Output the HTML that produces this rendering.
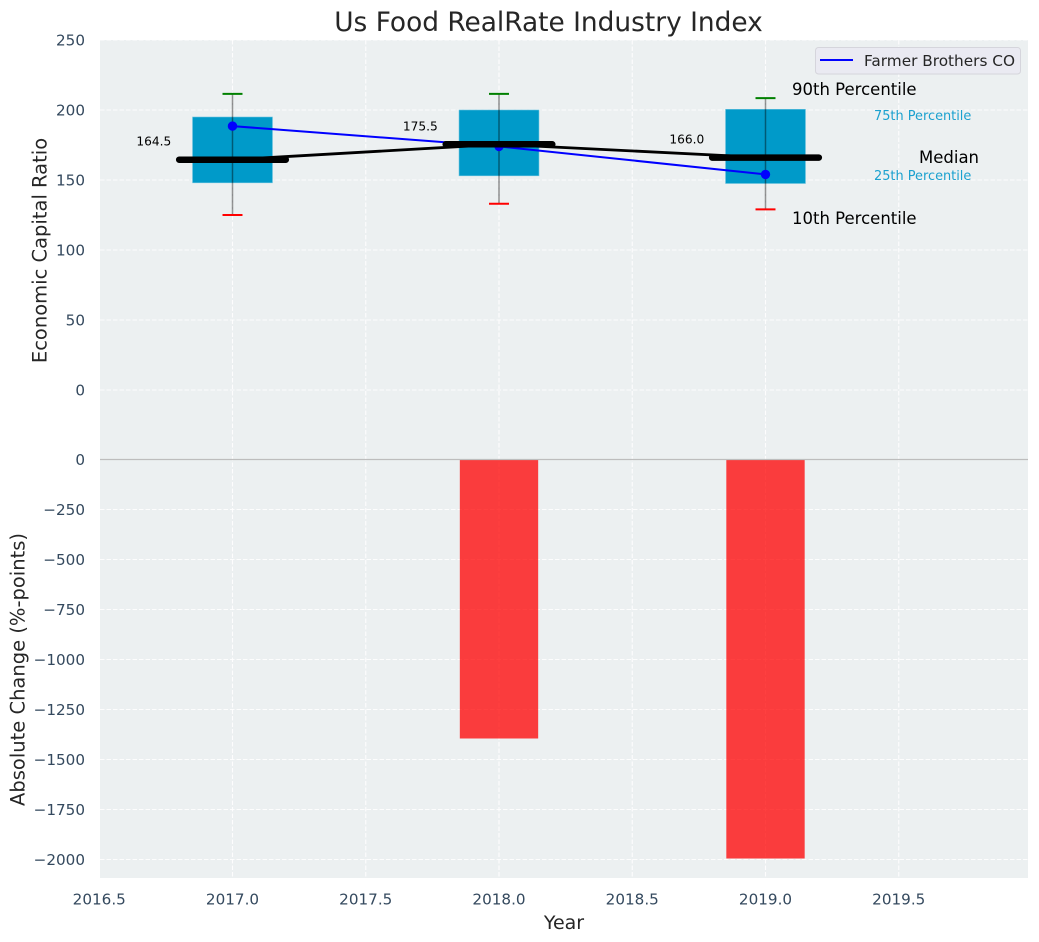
<!DOCTYPE html>
<html>
<head>
<meta charset="utf-8">
<style>
html,body{margin:0;padding:0;background:#fff;}
svg{display:block;font-family:"DejaVu Sans","Liberation Sans",sans-serif;}
</style>
</head>
<body>
<svg id="chart" xmlns="http://www.w3.org/2000/svg" width="1039" height="942" viewBox="0 0 1039 942">
  <rect x="100" y="40" width="928" height="838" fill="#ecf0f1"/>
  <g id="grid"></g>
  <g id="bars"></g>
  <line id="zero" x1="100" x2="1028" stroke="#bdbdbd" stroke-width="1.2"/>
  <g id="boxes"></g>
  <g id="medianLine"></g>
  <g id="company"></g>
  <g id="medianBars"></g>
  <g id="medianLabels"></g>
  <g id="ticks" font-size="15.2" fill="#34495e"></g>

  <text x="548.5" y="31" text-anchor="middle" font-size="26.4" fill="#262626">Us Food RealRate Industry Index</text>
  <text x="564" y="929" text-anchor="middle" font-size="19" fill="#262626">Year</text>
  <text transform="translate(46.5,250.5) rotate(-90)" text-anchor="middle" font-size="19.5" fill="#262626">Economic Capital Ratio</text>
  <text transform="translate(24.5,669.5) rotate(-90)" text-anchor="middle" font-size="19.5" fill="#262626">Absolute Change (%-points)</text>

  <text x="792" y="95" font-size="16.5" fill="#000">90th Percentile</text>
  <text x="874" y="120" font-size="12.9" fill="#1ba1cf">75th Percentile</text>
  <text x="919" y="163" font-size="16.5" fill="#000">Median</text>
  <text x="874" y="180" font-size="12.9" fill="#1ba1cf">25th Percentile</text>
  <text x="792" y="224" font-size="16.5" fill="#000">10th Percentile</text>

  <g>
    <rect x="815.5" y="47.5" width="205" height="26.5" rx="3" fill="#eaeaf2" stroke="#d5d5dc" stroke-width="1"/>
    <line x1="820" x2="853" y1="60" y2="60" stroke="#0000ff" stroke-width="2"/>
    <text x="864" y="66" font-size="15.3" fill="#262626">Farmer Brothers CO</text>
  </g>
</svg>
<script>
const years = [2017, 2018, 2019];
const p90 = [211.5, 211.5, 208.5];
const p75 = [195, 200, 200.5];
const medians = [164.5, 175.5, 166.0];
const p25 = [148, 153, 147.5];
const p10 = [125, 133, 129];
const company = [188.5, 174, 154];
const changes = [0, -1395, -1995];
const medianText = ['164.5', '175.5', '166.0'];
const xTicks = [2016.5, 2017, 2017.5, 2018, 2018.5, 2019, 2019.5];
const xTickText = ['2016.5', '2017.0', '2017.5', '2018.0', '2018.5', '2019.0', '2019.5'];
const topTicks = [0, 50, 100, 150, 200, 250];
const bottomTicks = [0, -250, -500, -750, -1000, -1250, -1500, -1750, -2000];

const NS = 'http://www.w3.org/2000/svg';
const xScale = v => 232.5 + (v - 2017) * 266.5;
const yTop = v => 390 - v * 1.4;
const yBottom = v => 459.5 - v * 0.2;

function make(parent, tag, attrs) {
  const el = document.createElementNS(NS, tag);
  for (const k in attrs) el.setAttribute(k, attrs[k]);
  document.getElementById(parent).appendChild(el);
  return el;
}
document.getElementById('zero').setAttribute('y1', yBottom(0));
document.getElementById('zero').setAttribute('y2', yBottom(0));

const gridStyle = {stroke: '#ffffff', 'stroke-width': 1.1, 'stroke-dasharray': '4.5 2', opacity: 0.9};
xTicks.forEach((t, i) => {
  const g = make('grid', 'line', Object.assign({x1: xScale(t), x2: xScale(t), y1: 40, y2: 878}, gridStyle));
  
  
  const l = make('ticks', 'text', {x: xScale(t), y: 904.5, 'text-anchor': 'middle'});
  
  
  l.textContent = xTickText[i];
});
topTicks.forEach(t => {
  const g = make('grid', 'line', Object.assign({x1: 100, x2: 1028, y1: yTop(t), y2: yTop(t)}, gridStyle));
  
  
  const l = make('ticks', 'text', {x: 85, y: yTop(t) + 5.5, 'text-anchor': 'end'});
  
  
  l.textContent = String(t);
});
bottomTicks.forEach(t => {
  const g = make('grid', 'line', Object.assign({x1: 100, x2: 1028, y1: yBottom(t), y2: yBottom(t)}, gridStyle));
  
  
  const l = make('ticks', 'text', {x: 85, y: yBottom(t) + 5.5, 'text-anchor': 'end'});
  
  
  l.textContent = String(t).replace('-', '\u2212');
});

years.forEach((yr, i) => {
  const left = xScale(yr - 0.15), right = xScale(yr + 0.15), cx = xScale(yr);
  if (changes[i] !== 0) {
    const barLeft = xScale(yr - 0.147), barRight = xScale(yr + 0.147);
    const b = make('bars', 'rect', {x: barLeft, width: barRight - barLeft, y: yBottom(0), height: yBottom(changes[i]) - yBottom(0), fill: '#ff0000', 'fill-opacity': 0.75});
    
    
  }
  const box = make('boxes', 'rect', {x: left, width: right - left, y: yTop(p75[i]), height: yTop(p25[i]) - yTop(p75[i]), fill: '#009ac9', stroke: '#6cc3de', 'stroke-width': 0.6});
  
  
  const w = make('boxes', 'line', {x1: cx, x2: cx, y1: yTop(p90[i]), y2: yTop(p10[i]), stroke: '#000', 'stroke-opacity': 0.42, 'stroke-width': 1.5});
  
  
  const capHi = make('boxes', 'line', {x1: xScale(yr - 0.0375), x2: xScale(yr + 0.0375), y1: yTop(p90[i]), y2: yTop(p90[i]), stroke: '#008000', 'stroke-width': 2});
  
  
  const capLo = make('boxes', 'line', {x1: xScale(yr - 0.0375), x2: xScale(yr + 0.0375), y1: yTop(p10[i]), y2: yTop(p10[i]), stroke: '#ff0000', 'stroke-width': 2});
  
  
  const m = make('medianBars', 'line', {x1: xScale(yr - 0.2), x2: xScale(yr + 0.2), y1: yTop(medians[i]), y2: yTop(medians[i]), stroke: '#000', 'stroke-width': 6.5, 'stroke-linecap': 'round'});
  
  
  const t = make('medianLabels', 'text', {x: xScale(yr - 0.23), y: yTop(medians[i]) - 14, 'text-anchor': 'end', 'font-size': 12.2, fill: '#000'});
  
  
  t.textContent = medianText[i];
  const dot = make('company', 'circle', {cx: cx, cy: yTop(company[i]), r: 4.7, fill: '#0000ff'});
  
  
});

const trend = make('medianLine', 'polyline', {points: years.map((yr, i) => xScale(yr) + ',' + yTop(medians[i])).join(' '), fill: 'none', stroke: '#000', 'stroke-width': 2.8});


const line = make('company', 'polyline', {points: years.map((yr, i) => xScale(yr) + ',' + yTop(company[i])).join(' '), fill: 'none', stroke: '#0000ff', 'stroke-width': 2});


</script>
</body>
</html>
